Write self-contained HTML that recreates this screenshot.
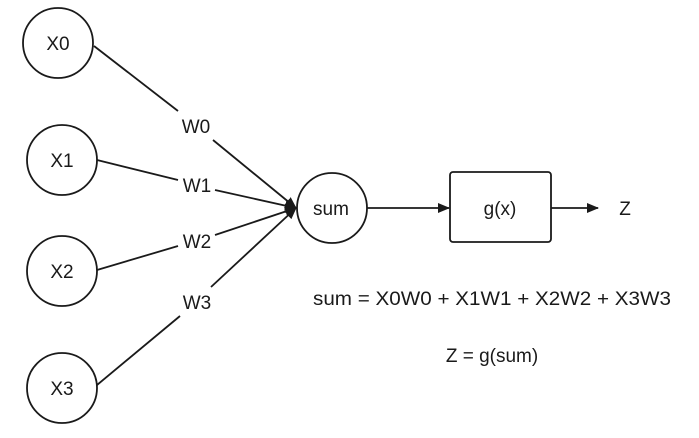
<!DOCTYPE html>
<html><head><meta charset="utf-8"><style>
html,body{margin:0;padding:0;background:#fff;}
svg text{font-family:"Liberation Sans",sans-serif;fill:#1a1a1a;}
</style></head><body>
<svg width="699" height="433" viewBox="0 0 699 433" xmlns="http://www.w3.org/2000/svg">
<defs>
<marker id="a" markerWidth="12" markerHeight="10" refX="11" refY="5" orient="auto" markerUnits="userSpaceOnUse">
<path d="M0,0 L12,5 L0,10 Z" fill="#1a1a1a"/>
</marker>
</defs>
<g stroke="#1a1a1a" stroke-width="1.8" fill="none">
<circle cx="58" cy="43" r="35"/>
<circle cx="62" cy="160" r="35"/>
<circle cx="62" cy="271" r="35"/>
<circle cx="62" cy="388" r="35"/>
<circle cx="332" cy="208" r="35"/>
<rect x="450" y="172" width="101" height="70" rx="3"/>
<line x1="94" y1="46" x2="178" y2="111"/>
<line x1="213" y1="140" x2="296" y2="208" marker-end="url(#a)"/>
<line x1="97" y1="160" x2="178" y2="180"/>
<line x1="215" y1="190" x2="296" y2="208" marker-end="url(#a)"/>
<line x1="97" y1="270" x2="178" y2="246"/>
<line x1="215" y1="235" x2="296" y2="208" marker-end="url(#a)"/>
<line x1="97" y1="385" x2="180" y2="316"/>
<line x1="211" y1="287" x2="296" y2="208" marker-end="url(#a)"/>
<line x1="367" y1="208" x2="449" y2="208" marker-end="url(#a)"/>
<line x1="551" y1="208" x2="598" y2="208" marker-end="url(#a)"/>
</g>
<g font-size="19" text-anchor="middle">
<text x="58" y="50">X0</text>
<text x="62" y="167">X1</text>
<text x="62" y="278">X2</text>
<text x="62" y="395">X3</text>
<text x="196" y="133">W0</text>
<text x="197" y="192">W1</text>
<text x="197" y="248">W2</text>
<text x="197" y="309">W3</text>
<text x="331" y="215">sum</text>
<text x="500" y="215">g(x)</text>
<text x="625" y="215">Z</text>
<text x="492" y="305" textLength="358" lengthAdjust="spacingAndGlyphs">sum = X0W0 + X1W1 + X2W2 + X3W3</text>
<text x="492" y="362">Z = g(sum)</text>
</g>
</svg>
</body></html>
